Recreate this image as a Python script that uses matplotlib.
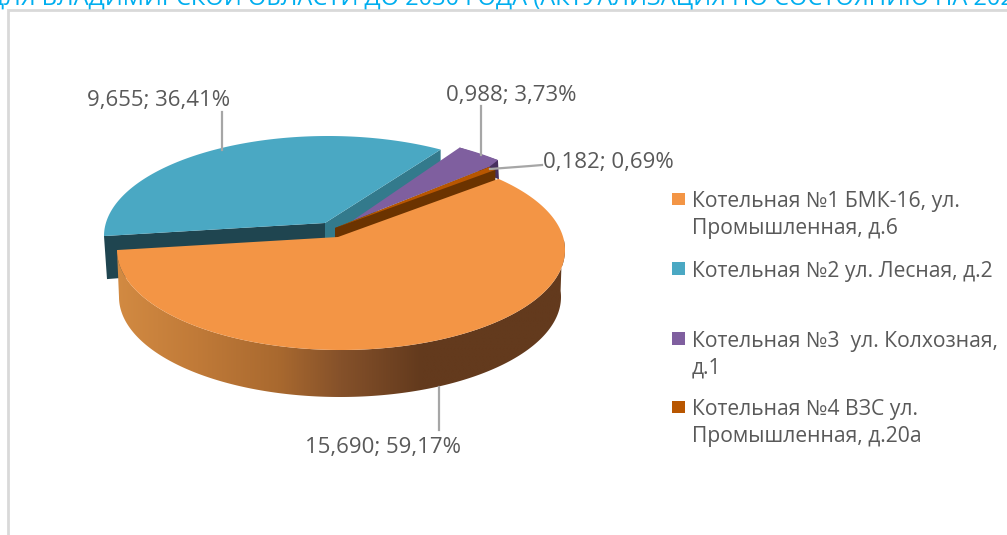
import matplotlib
matplotlib.use("Agg")
import matplotlib.pyplot as plt
import matplotlib.colors as mcolors
from matplotlib.patches import Polygon, Rectangle
import numpy as np

plt.rcParams['font.family'] = ['Open Sans', 'DejaVu Sans']

values = [15.690, 9.655, 0.988, 0.182]
percents = ['59,17%', '36,41%', '3,73%', '0,69%']
value_labels = ['15,690', '9,655', '0,988', '0,182']
legend_labels = ['Котельная №1 БМК-16, ул.\nПромышленная, д.6',
                 'Котельная №2 ул. Лесная, д.2',
                 'Котельная №3  ул. Колхозная,\nд.1',
                 'Котельная №4 ВЗС ул.\nПромышленная, д.20а']
title = 'ДЛЯ ВЛАДИМИРСКОЙ ОБЛАСТИ ДО 2030 ГОДА (АКТУАЛИЗАЦИЯ ПО СОСТОЯНИЮ НА 2021'

top_colors = ['#f39545', '#4aa8c3', '#7f5f9f', '#b85600']
cut_colors = ['#8a5528', '#1f4550', '#47305f', '#6b3300']
side_colors = ['#633a1d', '#337a8c', '#47305f', '#6b3300']
wall_stops = ['#d28a42', '#c07a38', '#a9692f', '#85512a', '#633a1d', '#633a1d']
text_gray = '#595959'
leader_gray = '#a6a6a6'

# pie geometry, in picture pixels
cx, cy, rx, ry = 341, 250, 224, 100
apex = (338, 237)
offsets = [(0, 0), (-13, -14), (6, -16), (-3, -9)]
apex_shift = [0, 0, 8, 0]
start_angle = 40
persp = 7


def to_t(theta):
    # fake perspective: front of the pie gets more of the ellipse than the back
    return theta + persp * np.cos(np.radians(theta))


def depth(y):
    return np.interp(y, [150, 235, 350], [16, 43, 48])


def arc(a, b, dx=0, dy=0, n=120):
    t = np.radians(to_t(np.linspace(a, b, n)))
    return np.column_stack([cx + dx + rx * np.cos(t), cy + dy - ry * np.sin(t)])


spans = np.array(values) / sum(values) * 360
ends = start_angle - np.cumsum(spans)
starts = ends + spans

fig = plt.figure(figsize=(10.07, 5.35), dpi=100)
ax = fig.add_axes([0, 0, 1, 1])
ax.set_xlim(0, 1007)
ax.set_ylim(535, 0)
ax.axis('off')

# frame of the pasted picture
ax.plot([8, 8, 1007], [535, 10, 10], color='#d9d9d9', lw=2, solid_joinstyle='miter')

ax.text(-12, 5, title, color='#00aeef', fontsize=17, va='baseline', ha='left', clip_on=False)

# where the red slice touches the purple one
red_tip = arc(starts[3], ends[3], *offsets[3])[0]

# back slices first, orange goes on top of everything
for i in [1, 2, 3]:
    dx, dy = offsets[i]
    pts = arc(starts[i], ends[i], dx, dy)
    ap = np.array([apex[0] + dx + apex_shift[i], apex[1] + dy])
    a = pts[0]
    b = pts[-1]
    if i == 2:
        # only the little outer wall of the purple slice shows
        ax.add_patch(Polygon([a, b, b + [1, depth(b[1])], a + [1, depth(a[1])]],
                             fc=side_colors[i], ec='none', zorder=2 + i))
        face = np.vstack([ap, pts, red_tip])
    else:
        ax.add_patch(Polygon([a, ap, ap + [0, depth(ap[1])], a + [3, depth(a[1])]],
                             fc=cut_colors[i], ec='none', zorder=2 + i))
        ax.add_patch(Polygon([ap, b, b + [0, depth(b[1])], ap + [10, 18], ap + [0, 18]],
                             fc=side_colors[i], ec='none', zorder=2 + i))
        face = np.vstack([ap, pts])
    ax.add_patch(Polygon(face, fc=top_colors[i], ec='none', zorder=3 + i))

# orange wall with its horizontal gradient
top_arc = arc(starts[0], ends[0], n=300)
front = top_arc[top_arc[:, 1] > 235]
bt = np.radians(to_t(np.linspace(starts[0], ends[0], 300)))
bottom = np.column_stack([340 + 221 * np.cos(bt), 297 - 100 * np.sin(bt)])
bottom = bottom[bottom[:, 1] > 290]
wall = Polygon(np.vstack([front, bottom[::-1]]), fc='none', ec='none', zorder=8)
ax.add_patch(wall)
cmap = mcolors.LinearSegmentedColormap.from_list(
    'wall', list(zip([0, 0.18, 0.36, 0.5, 0.68, 1], wall_stops)))
im = ax.imshow(np.linspace(0, 1, 256).reshape(1, -1), cmap=cmap, aspect='auto',
               extent=(117, 565, 400, 240), zorder=8)
im.set_clip_path(wall)
ax.set_xlim(0, 1007)
ax.set_ylim(535, 0)

ax.add_patch(Polygon(np.vstack([apex, arc(starts[0], ends[0], n=300)]),
                     fc=top_colors[0], ec='none', zorder=9))

# leader lines
leaders = [([438.5, 438.5], [387, 430]),
           ([222, 222], [112, 150]),
           ([481, 481], [106, 155]),
           ([490, 530, 542], [169, 166, 165])]
for lx, ly in leaders:
    ax.plot(lx, ly, color=leader_gray, lw=1.6, zorder=10)

label_pos = [(383, 447.5), (159, 100.5), (511, 95), (608, 162.5)]
for v, p, (lx, ly) in zip(value_labels, percents, label_pos):
    ax.text(lx, ly, v + '; ' + p, color=text_gray, fontsize=16, ha='center', va='center', zorder=11)

# legend
legend_y = [198.5, 268, 338, 406.5]
for lab, c, ly in zip(legend_labels, top_colors, legend_y):
    ax.add_patch(Rectangle((672, ly - 6), 12.5, 12.5, fc=c, ec='none'))
    ax.text(692, ly - 7.5, lab, color=text_gray, fontsize=15.2, ha='left', va='top',
            linespacing=1.35)

fig.savefig('out.png', dpi=100)
